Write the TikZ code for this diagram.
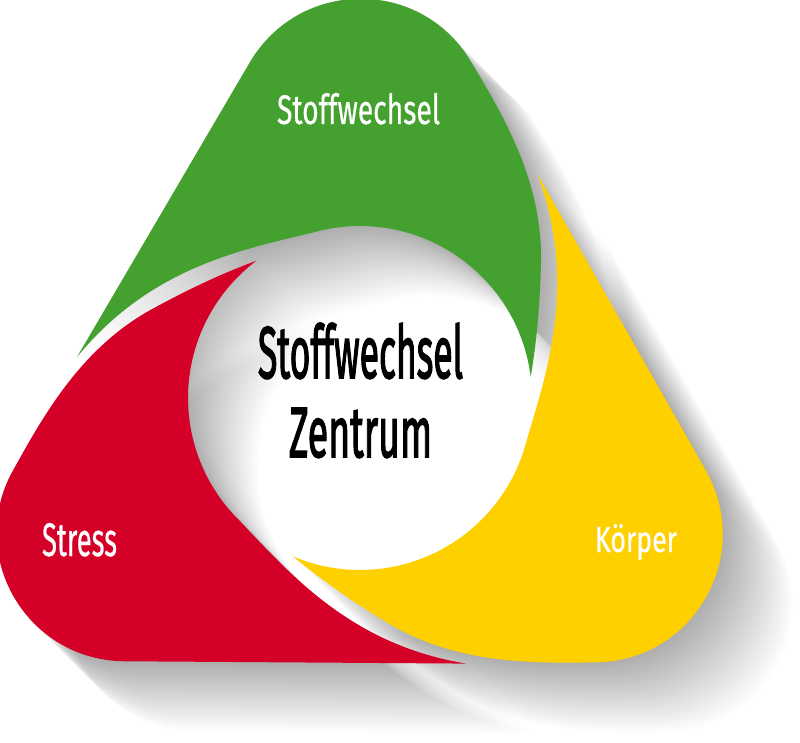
\documentclass[tikz,border=0pt]{standalone}
\usepackage{graphicx}
\usepackage{fontspec}
\newfontfamily\labfont[FakeBold=0.6]{Fira Sans}
\newfontfamily\cenfont[FakeBold=2.5]{Fira Sans}
\definecolor{bgreen}{RGB}{69,161,47}
\definecolor{bred}{RGB}{212,0,39}
\definecolor{byellow}{RGB}{254,208,0}
\newcommand{\bladefill}[1]{%
  \fill[#1] (77,357) -- (250,62)
    .. controls (300,-22) and (420,-22) .. (470,60)
    .. controls (503,115) and (542,180) .. (541,260)
    .. controls (540,310) and (536,345) .. (530.7,377)
    -- plot[domain=353:254, samples=50] ({360+172*cos(\x)},{398+172*sin(\x)})
    .. controls (240,250) and (150,268) .. (77,357) -- cycle;}
\tikzset{
  lab/.style={inner sep=0pt, outer sep=0pt, anchor=base west, font=\labfont, text=white},
  centerlab/.style={inner sep=0pt, outer sep=0pt, anchor=base west, font=\cenfont, text=black}
}
\begin{document}
\begin{tikzpicture}[x=1pt,y=-1pt]
\useasboundingbox (0,0) rectangle (800,743);
\clip (0,0) rectangle (800,743);
\fill[white] (0,0) rectangle (800,743);
% long shadows cast towards the lower right
\foreach \k in {1,...,40}{
  \foreach \a in {0,120,-120}{
    \bladefill{black, opacity=0.0062, shift={(1.75*\k,1.75*\k)}, rotate around={\a:(360,398)}}
  }
}
% blades
\bladefill{bgreen}
\bladefill{byellow, rotate around={-120:(360,398)}}
\bladefill{bred, rotate around={120:(360,398)}}
% labels
\node[lab] (tgreen) at (277,124) {\resizebox{163pt}{31pt}{Stoffwechsel}};
\node[lab] (tred) at (42,556) {\resizebox{75pt}{33pt}{Stress}};
\node[lab] (tyellow) at (595,552) {\resizebox{82pt}{28pt}{Körper}};
\node[centerlab] (tc1) at (258,378) {\resizebox{205pt}{55pt}{Stoffwechsel}};
\node[centerlab] (tc2) at (289,457) {\resizebox{143pt}{49pt}{Zentrum}};
\end{tikzpicture}
\end{document}
